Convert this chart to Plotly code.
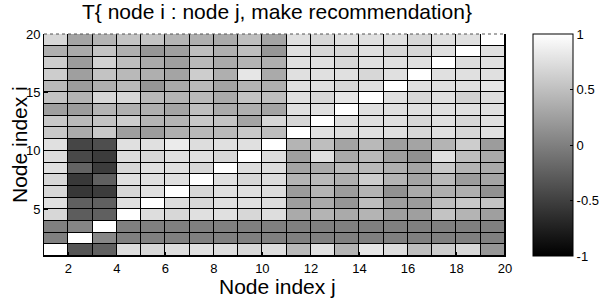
import plotly.graph_objects as go

# cell edges (pcolor style): node indices
x_edges = list(range(1, 21))
y_edges = list(range(1, 21))

# T values, row i = 1 (bottom) ... 19 (top); columns j = 1 ... 19
row_01 = [1.00, -0.33, -0.25, 0.73, 0.69, 0.73, 0.76, 0.73, 0.69, 0.73, 0.45, 0.76, 0.41, 0.80, 0.73, 0.49, 0.61, 0.69, 0.18]
row_02 = [0.00, 1.00, 0.06, 0.00, 0.00, 0.00, 0.00, 0.00, 0.00, 0.00, 0.00, 0.00, 0.00, 0.00, 0.00, 0.00, 0.00, 0.00, 0.00]
row_03 = [0.00, 0.04, 1.00, 0.00, 0.00, 0.00, 0.00, 0.00, 0.00, 0.00, 0.00, 0.00, 0.00, 0.00, 0.00, 0.00, 0.00, 0.00, 0.00]
row_04 = [0.69, -0.27, -0.25, 1.00, 0.73, 0.69, 0.76, 0.76, 0.69, 0.73, 0.33, 0.41, 0.33, 0.41, 0.25, 0.25, 0.53, 0.41, 0.25]
row_05 = [0.76, -0.25, -0.25, 0.76, 1.00, 0.73, 0.69, 0.76, 0.76, 0.73, 0.25, 0.33, 0.18, 0.49, 0.25, 0.22, 0.49, 0.57, 0.53]
row_06 = [0.69, -0.57, -0.53, 0.69, 0.76, 1.00, 0.69, 0.76, 0.76, 0.73, 0.22, 0.41, 0.22, 0.41, 0.14, 0.33, 0.37, 0.37, 0.14]
row_07 = [0.69, -0.55, -0.25, 0.76, 0.76, 0.76, 1.00, 0.76, 0.69, 0.73, 0.41, 0.45, 0.37, 0.61, 0.41, 0.29, 0.45, 0.22, 0.29]
row_08 = [0.76, -0.22, -0.53, 0.69, 0.76, 0.76, 0.69, 1.00, 0.73, 0.73, 0.29, 0.33, 0.45, 0.45, 0.37, 0.29, 0.57, 0.41, 0.33]
row_09 = [0.73, -0.43, -0.53, 0.73, 0.69, 0.76, 0.76, 0.69, 1.00, 0.73, 0.25, 0.76, 0.33, 0.45, 0.25, 0.14, 0.76, 0.49, 0.33]
row_10 = [0.76, -0.45, -0.39, 0.76, 0.76, 0.84, 0.73, 0.76, 0.76, 1.00, 0.41, 0.49, 0.29, 0.45, 0.25, 0.29, 0.41, 0.61, 0.22]
row_11 = [0.57, 0.33, 0.57, 0.25, 0.22, 0.37, 0.45, 0.45, 0.57, 0.49, 1.00, 0.76, 0.73, 0.76, 0.76, 0.69, 0.76, 0.69, 0.76]
row_12 = [0.57, 0.45, 0.53, 0.61, 0.41, 0.41, 0.57, 0.53, 0.29, 0.69, 0.69, 1.00, 0.76, 0.76, 0.76, 0.69, 0.76, 0.69, 0.76]
row_13 = [0.25, 0.22, 0.41, 0.37, 0.37, 0.29, 0.49, 0.33, 0.37, 0.29, 0.76, 0.76, 1.00, 0.76, 0.76, 0.76, 0.76, 0.76, 0.76]
row_14 = [0.53, 0.41, 0.69, 0.69, 0.45, 0.41, 0.45, 0.33, 0.53, 0.49, 0.76, 0.69, 0.80, 1.00, 0.76, 0.69, 0.76, 0.65, 0.73]
row_15 = [0.45, 0.22, 0.37, 0.45, 0.18, 0.33, 0.45, 0.29, 0.41, 0.37, 0.76, 0.76, 0.69, 0.76, 1.00, 0.76, 0.76, 0.76, 0.80]
row_16 = [0.61, 0.25, 0.53, 0.45, 0.37, 0.29, 0.61, 0.37, 0.80, 0.33, 0.76, 0.76, 0.76, 0.69, 0.76, 1.00, 0.76, 0.76, 0.76]
row_17 = [0.61, 0.22, 0.65, 0.49, 0.33, 0.25, 0.45, 0.33, 0.41, 0.37, 0.76, 0.76, 0.69, 0.76, 0.76, 0.76, 1.00, 0.73, 0.76]
row_18 = [0.37, 0.33, 0.53, 0.37, 0.18, 0.25, 0.49, 0.37, 0.49, 0.18, 0.76, 0.69, 0.69, 0.76, 0.69, 0.69, 0.76, 1.00, 0.76]
row_19 = [0.69, 0.29, 0.41, 0.53, 0.53, 0.41, 0.37, 0.33, 0.49, 0.29, 0.76, 0.69, 0.76, 0.76, 0.76, 0.69, 0.76, 0.76, 1.00]

z = [row_01, row_02, row_03, row_04, row_05, row_06, row_07, row_08, row_09, row_10,
     row_11, row_12, row_13, row_14, row_15, row_16, row_17, row_18, row_19]

x_ticks = [2, 4, 6, 8, 10, 12, 14, 16, 18, 20]
y_ticks = [5, 10, 15, 20]
cb_ticks = [-1, -0.5, 0, 0.5, 1]
cb_labels = ["-1", "-0.5", "0", "0.5", "1"]

title_text = "T{ node i : node j, make recommendation}"
xlabel_text = "Node index j"
ylabel_text = "Node index i"

FONT = "Liberation Sans, Arial, sans-serif"
W, H = 602, 299
L, R, T, B = 44, 97, 34, 43

fig = go.Figure(go.Heatmap(
    x=x_edges, y=y_edges, z=z,
    zmin=-1, zmax=1,
    colorscale=[[0, "black"], [1, "white"]],
    xgap=1, ygap=1,
    hoverinfo="skip",
    colorbar=dict(
        x=(533 - L) / (W - L - R), xanchor="left", xref="paper",
        y=0.5, yanchor="middle", len=1.0, lenmode="fraction",
        thickness=40, thicknessmode="pixels",
        outlinewidth=1, outlinecolor="black",
        tickvals=cb_ticks, ticktext=cb_labels,
        ticks="inside", ticklen=3, tickcolor="black",
        tickfont=dict(family=FONT, size=13, color="black"),
        xpad=0, ypad=0,
    ),
))

fig.update_layout(
    width=W, height=H,
    margin=dict(l=L, r=R, t=T, b=B, autoexpand=False),
    paper_bgcolor="white", plot_bgcolor="black",
    font=dict(family=FONT, color="black"),
    xaxis=dict(range=[1, 20], tickvals=x_ticks, ticks="inside", ticklen=4,
               tickcolor="black", showline=True, linecolor="black", linewidth=1,
               mirror=False, showgrid=False, zeroline=False, automargin=False,
               tickfont=dict(family=FONT, size=13)),
    yaxis=dict(range=[1, 20], tickvals=y_ticks, ticks="inside", ticklen=4,
               tickcolor="black", showline=True, linecolor="black", linewidth=1,
               mirror=True, showgrid=False, zeroline=False, automargin=False,
               tickfont=dict(family=FONT, size=13)),
    annotations=[
        dict(text=title_text, xref="paper", yref="paper",
             x=(277 - L) / (W - L - R), y=1 + (T - 12) / (H - T - B),
             xanchor="center", yanchor="middle", showarrow=False,
             font=dict(family=FONT, size=21, color="black")),
        dict(text=xlabel_text, xref="paper", yref="paper",
             x=(277 - L) / (W - L - R), y=-(286 - (H - B)) / (H - T - B),
             xanchor="center", yanchor="middle", showarrow=False,
             font=dict(family=FONT, size=21, color="black")),
        dict(text=ylabel_text, xref="paper", yref="paper", textangle=-90,
             x=-(L - 19) / (W - L - R), y=0.5,
             xanchor="center", yanchor="middle", showarrow=False,
             font=dict(family=FONT, size=21, color="black")),
    ],
)

# dotted top box edge as in the original
fig.add_shape(type="line", xref="paper", yref="paper", x0=0, x1=1, y0=1, y1=1,
              line=dict(color="#555555", width=1, dash="dot"))

fig.write_html("out.html", config={"displayModeBar": False},
               post_script="document.body.style.margin='0';")
